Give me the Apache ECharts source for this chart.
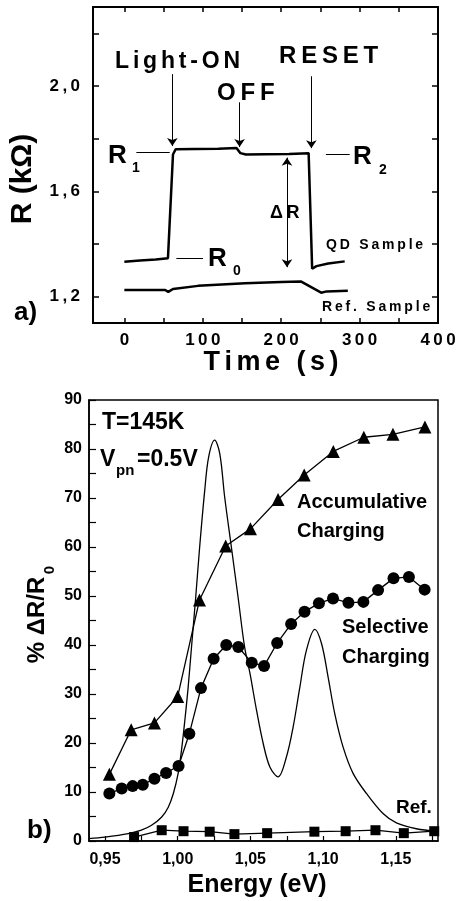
<!DOCTYPE html>
<html><head><meta charset="utf-8">
<script src="https://cdn.jsdelivr.net/npm/echarts@6/dist/echarts.min.js"></script>
<style>html,body{margin:0;padding:0;background:#fff}#c{width:461px;height:901px}</style>
</head><body><div id="c"></div>
<script>
// ---- panel a) resistance vs time ----
const timeQD = [0, 20, 40, 55.6, 62, 65.4, 90, 120, 143, 148, 155, 180, 210, 235, 239.5, 245, 260, 281];
const rQD    = [1.333, 1.337, 1.341, 1.346, 1.74, 1.76, 1.761, 1.762, 1.765, 1.745, 1.740, 1.741, 1.742, 1.745, 1.306, 1.316, 1.326, 1.334];
const timeRef = [0, 30, 52, 56, 62, 94, 154, 200, 225, 251, 258, 285];
const rRef    = [1.2255, 1.225, 1.2255, 1.218, 1.229, 1.241, 1.251, 1.256, 1.258, 1.215, 1.220, 1.222];
const timeTicks = [0, 50, 100, 150, 200, 250, 300, 350];
const timeLabels = [0, 100, 200, 300, 400];
const rTicks = [1.2, 1.4, 1.6, 1.8, 2.0, 2.2];
const rLabels = [1.2, 1.6, 2.0];

// ---- panel b) %dR/R0 vs energy ----
const energyAcc = [0.953, 0.968, 0.984, 1.000, 1.015, 1.033, 1.050, 1.069, 1.087, 1.107, 1.128, 1.148, 1.170];
const accumulative = [13.6, 22.7, 24.1, 29.5, 49.2, 60.2, 63.7, 69.7, 74.7, 79.5, 82.4, 83.0, 84.5];
const energySel = [0.953, 0.9615, 0.969, 0.976, 0.984, 0.992, 1.0006, 1.008, 1.016, 1.0247, 1.0334, 1.0417, 1.0509, 1.0594, 1.0684, 1.078, 1.0872, 1.0971, 1.1068, 1.1174, 1.1277, 1.1378, 1.1484, 1.159, 1.1698];
const selective = [9.7, 10.7, 11.2, 11.5, 12.7, 13.9, 15.3, 21.9, 31.2, 37.2, 40.0, 39.6, 36.4, 35.7, 40.4, 44.3, 46.8, 48.5, 49.5, 48.6, 48.8, 51.2, 53.6, 53.9, 51.3];
const energyRef = [0.970, 0.989, 1.004, 1.022, 1.039, 1.0615, 1.094, 1.1155, 1.136, 1.1555, 1.1764];
const reference = [0.8, 2.2, 2.0, 1.9, 1.4, 1.6, 1.9, 2.0, 2.2, 1.6, 2.0];
const energySpec = [0.939, 0.950, 0.966, 0.975, 0.982, 0.989, 0.9935, 0.997, 1.0003, 1.0026, 1.0049, 1.0072, 1.0095, 1.0124, 1.0151, 1.0186, 1.0213, 1.0254, 1.0289, 1.0323, 1.0369, 1.0415, 1.046, 1.0497, 1.0542, 1.0588, 1.0634, 1.069, 1.0748, 1.0794, 1.084, 1.0885, 1.0943, 1.0989, 1.1034, 1.108, 1.1137, 1.1206, 1.1298, 1.1412, 1.1504, 1.1641, 1.1779];
const spectrum = [0.5, 0.8, 1.5, 2.2, 3.2, 4.9, 6.9, 9.7, 13.8, 18.5, 24.6, 31.4, 39.6, 49.8, 60.0, 71.6, 78.4, 81.8, 79.1, 70.2, 60.0, 49.8, 39.6, 34.2, 26.7, 19.9, 15.1, 13.1, 17.2, 23.3, 31.4, 38.9, 43.2, 40.3, 33.5, 26.0, 19.2, 13.8, 9.7, 5.6, 3.7, 2.5, 2.0];
const energyTicks = [0.95, 0.975, 1.0, 1.025, 1.05, 1.075, 1.1, 1.125, 1.15, 1.175];
const energyLabels = [0.95, 1.0, 1.05, 1.1, 1.15];
const pctLabels = [0, 10, 20, 30, 40, 50, 60, 70, 80, 90];

const FF = '"Liberation Sans", Arial, sans-serif';
const sp = s => String(s).split('').join('\u2009');
const sp6 = s => String(s).split('').join('\u2006');
const zip = (a, b) => a.map((v, i) => [v, b[i]]);
const comma = (v, d) => v.toFixed(d).replace('.', ',');
const labelStyle = (size, extra) => Object.assign({fontFamily: FF, fontWeight: 'bold', fontSize: size, color: '#000'}, extra);
const txt = (text, x, y, size, align) => ({
  type: 'text', x: x, y: y, silent: true,
  style: {text: text, font: 'bold ' + size + 'px ' + FF, fill: '#000', align: align || 'left', verticalAlign: 'middle'}
});
const rtxt = (text, x, y, size) => ({
  type: 'text', x: x, y: y, rotation: Math.PI / 2, silent: true,
  style: {text: text, font: 'bold ' + size + 'px ' + FF, fill: '#000', align: 'center', verticalAlign: 'middle'}
});

const chart = echarts.init(document.getElementById('c'));
const axLine = w => ({show: true, onZero: false, lineStyle: {color: '#000', width: w}});

chart.setOption({
  animation: false,
  backgroundColor: '#fff',
  grid: [
    {left: 93, right: 23, top: 7, bottom: 578, show: true, borderColor: '#000', borderWidth: 2, backgroundColor: 'transparent'},
    {left: 89, right: 23, top: 400, bottom: 60, show: true, borderColor: '#000', borderWidth: 1.5, backgroundColor: 'transparent'}
  ],
  xAxis: [
    {gridIndex: 0, type: 'value', min: -40, max: 400, position: 'bottom', axisLine: axLine(2),
      axisTick: {inside: true, length: 5, customValues: timeTicks, lineStyle: {color: '#000', width: 1.5}},
      axisLabel: labelStyle(17, {customValues: timeLabels, margin: 9, formatter: v => sp(v)}),
      splitLine: {show: false}},
    {gridIndex: 0, type: 'value', min: -40, max: 400, position: 'top', axisLine: axLine(2),
      axisTick: {inside: true, length: 5, customValues: timeTicks, lineStyle: {color: '#000', width: 1.5}},
      axisLabel: {show: false}, splitLine: {show: false}},
    {gridIndex: 1, type: 'value', min: 0.939, max: 1.179, position: 'bottom', axisLine: axLine(1.5),
      axisTick: {inside: true, length: 5, customValues: energyTicks, lineStyle: {color: '#000', width: 1.2}},
      axisLabel: labelStyle(16, {customValues: energyLabels, margin: 11, formatter: v => comma(v, 2)}),
      splitLine: {show: false}}
  ],
  yAxis: [
    {gridIndex: 0, type: 'value', min: 1.1, max: 2.3, position: 'left', axisLine: axLine(2),
      axisTick: {show: true, inside: true, length: 6, customValues: rTicks, lineStyle: {color: '#000', width: 1.5}},
      axisLabel: labelStyle(17, {customValues: rLabels, margin: 13, formatter: v => sp(comma(v, 1))}),
      splitLine: {show: false}},
    {gridIndex: 0, type: 'value', min: 1.1, max: 2.3, position: 'right', axisLine: axLine(2),
      axisTick: {show: true, inside: true, length: 6, customValues: rTicks, lineStyle: {color: '#000', width: 1.5}},
      axisLabel: {show: false}, splitLine: {show: false}},
    {gridIndex: 1, type: 'value', min: 0, max: 90, interval: 5, position: 'left', axisLine: axLine(1.5),
      axisTick: {show: true, inside: true, length: 7, lineStyle: {color: '#000', width: 1.2}},
      axisLabel: labelStyle(16, {customValues: pctLabels, margin: 7}),
      splitLine: {show: false}}
  ],
  series: [
    {name: 'QD Sample', type: 'line', xAxisIndex: 0, yAxisIndex: 0, data: zip(timeQD, rQD), showSymbol: false,
      lineStyle: {color: '#000', width: 2.5}, z: 3,
      markLine: {silent: true, symbol: ['none', 'arrow'], symbolSize: 8, label: {show: false},
        lineStyle: {color: '#000', width: 1, type: 'solid'},
        data: [
          [{coord: [61.2, 2.045]}, {coord: [61.2, 1.772]}],
          [{coord: [147, 1.938]}, {coord: [147, 1.768]}],
          [{coord: [238.5, 2.037]}, {coord: [238.5, 1.764]}],
          [{coord: [207.4, 1.728], symbol: 'arrow'}, {coord: [207.4, 1.312]}],
          [{coord: [15.3, 1.75], symbol: 'none'}, {coord: [57.8, 1.75], symbol: 'none'}],
          [{coord: [257, 1.74], symbol: 'none'}, {coord: [287.4, 1.74], symbol: 'none'}],
          [{coord: [66.3, 1.344], symbol: 'none'}, {coord: [100.3, 1.344], symbol: 'none'}]
        ]}},
    {name: 'Ref. Sample', type: 'line', xAxisIndex: 0, yAxisIndex: 0, data: zip(timeRef, rRef), showSymbol: false,
      lineStyle: {color: '#000', width: 2.5}},
    {name: 'Spectrum', type: 'line', xAxisIndex: 2, yAxisIndex: 2, data: zip(energySpec, spectrum), showSymbol: false,
      smooth: 0.35, lineStyle: {color: '#000', width: 1.3}, z: 1},
    {name: 'Accumulative Charging', type: 'line', xAxisIndex: 2, yAxisIndex: 2, data: zip(energyAcc, accumulative),
      symbol: 'triangle', symbolSize: 13, itemStyle: {color: '#000'}, lineStyle: {color: '#000', width: 1.3}, z: 3},
    {name: 'Selective Charging', type: 'line', xAxisIndex: 2, yAxisIndex: 2, data: zip(energySel, selective),
      symbol: 'circle', symbolSize: 12, itemStyle: {color: '#000'}, lineStyle: {color: '#000', width: 1.3}, z: 3},
    {name: 'Ref.', type: 'line', xAxisIndex: 2, yAxisIndex: 2, data: zip(energyRef, reference),
      symbol: 'rect', symbolSize: 10, itemStyle: {color: '#000'}, lineStyle: {color: '#000', width: 1.3}, z: 3}
  ],
  graphic: [
    txt(sp6('Light-ON'), 115, 62, 23),
    txt(sp('OFF'), 217, 93, 24),
    txt(sp('RESET'), 279, 56, 24),
    txt('R', 108, 156, 26), txt('1', 132, 168, 14),
    txt('R', 353, 157, 26), txt('2', 379, 170, 14),
    txt('R', 208, 259, 26), txt('0', 233, 271, 14),
    txt('\u0394\u2009R', 270, 213, 18),
    txt(sp('QD Sample'), 326, 245, 14),
    txt(sp('Ref. Sample'), 322, 307, 14),
    txt('a)', 14, 313, 26),
    rtxt('R (k\u03A9)', 23, 179, 30),
    txt(sp6('Time (s)'), 271, 363, 27, 'center'),
    txt('T=145K', 102, 423, 23),
    txt('V', 100, 460, 23), txt('pn', 116, 471, 15), txt('=0.5V', 137, 460, 23),
    txt('Accumulative', 297, 502, 20), txt('Charging', 297, 531, 20),
    txt('Selective', 342, 627, 20), txt('Charging', 342, 657, 20),
    txt('Ref.', 396, 808, 19),
    txt('b)', 27, 831, 26),
    rtxt('% \u0394R/R', 37, 620, 24),
    rtxt('0', 50, 570, 15),
    txt('Energy (eV)', 257, 885, 25, 'center')
  ]
});
</script></body></html>
